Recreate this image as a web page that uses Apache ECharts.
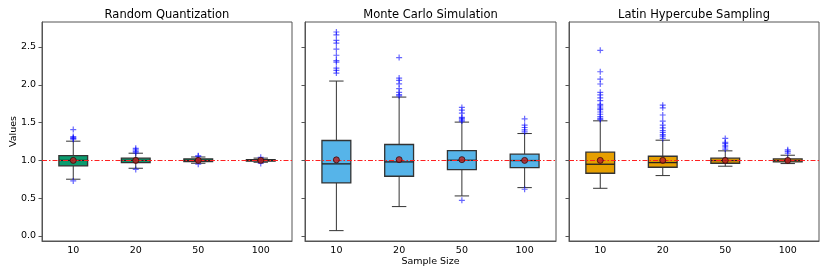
<!DOCTYPE html>
<html>
<head>
<meta charset="utf-8">
<script src="https://cdn.jsdelivr.net/npm/echarts@6/dist/echarts.min.js"></script>
<style>
html,body{margin:0;padding:0;background:#fff;}
#chart{width:830px;height:277px;}
</style>
</head>
<body>
<div id="chart"></div>
<script>
// ---------------- data ----------------
const categories = ['10', '20', '50', '100'];
const panelTitles = ['Random Quantization', 'Monte Carlo Simulation', 'Latin Hypercube Sampling'];
const yTicks = [0, 0.5, 1.0, 1.5, 2.0, 2.5];
const referenceValue = 1.0;

// [whisker low, Q1, median, Q3, whisker high]
const rqBox = [[0.751, 0.927, 1.000, 1.064, 1.254], [0.896, 0.971, 1.000, 1.029, 1.095], [0.962, 0.985, 1.000, 1.020, 1.045], [0.975, 0.990, 1.000, 1.010, 1.030]];
const mcBox = [[0.071, 0.702, 0.954, 1.263, 2.049], [0.389, 0.790, 0.980, 1.210, 1.837], [0.530, 0.879, 1.002, 1.130, 1.506], [0.640, 0.905, 0.998, 1.082, 1.355]];
const lhsBox = [[0.631, 0.830, 0.949, 1.108, 1.523], [0.799, 0.909, 0.971, 1.055, 1.267], [0.923, 0.962, 0.998, 1.029, 1.126], [0.958, 0.980, 0.998, 1.020, 1.068]];

const rqMean = [1.000, 1.000, 1.000, 1.000];
const mcMean = [1.007, 1.010, 1.010, 1.000];
const lhsMean = [1.000, 1.000, 1.000, 1.000];

// outliers per category
const rqOutliers = [[1.408, 1.316, 1.300, 1.290, 1.280, 0.728], [1.160, 1.140, 1.120, 1.100, 0.880], [1.060, 1.055, 0.950], [1.040, 0.960]];
const mcOutliers = [[2.698, 2.660, 2.587, 2.550, 2.470, 2.390, 2.320, 2.300, 2.220, 2.190, 2.155], [2.360, 2.088, 2.057, 2.013, 1.950, 1.900, 1.870, 1.854], [1.700, 1.664, 1.625, 1.570, 1.555, 1.536, 1.520, 0.472], [1.550, 1.466, 1.435, 1.404, 1.377, 0.618]];
const lhsOutliers = [[2.455, 2.172, 2.075, 2.010, 1.900, 1.866, 1.826, 1.790, 1.740, 1.720, 1.690, 1.670, 1.640, 1.610, 1.580, 1.555, 1.540], [1.730, 1.695, 1.600, 1.520, 1.465, 1.430, 1.395, 1.370, 1.340, 1.320, 1.290], [1.290, 1.240, 1.225, 1.200, 1.180, 1.150], [1.140, 1.120, 1.095]];

const boxColors = ['#0a9c6e', '#56b4e9', '#e69f00'];

// ---------------- chart ----------------
const panels = [
  {box: rqBox, mean: rqMean, out: rqOutliers},
  {box: mcBox, mean: mcMean, out: mcOutliers},
  {box: lhsBox, mean: lhsMean, out: lhsOutliers}
];
const gridLefts = [42, 305, 569];
const gridWidths = [250, 251, 250];
const FONT = 'DejaVu Sans';
const AX = '#555';
const TXT = '#000';

function renderBox(params, api) {
  const x = api.value(0);
  const lo = api.coord([x, api.value(1)]);
  const q1 = api.coord([x, api.value(2)]);
  const md = api.coord([x, api.value(3)]);
  const q3 = api.coord([x, api.value(4)]);
  const hi = api.coord([x, api.value(5)]);
  const bw = api.size([1, 0])[0] * 0.46;
  const cw = bw / 2;
  const cx = lo[0];
  const ls = {stroke: '#333', lineWidth: 1};
  return {
    type: 'group',
    children: [
      {type: 'line', shape: {x1: cx, y1: q3[1], x2: cx, y2: hi[1]}, style: ls},
      {type: 'line', shape: {x1: cx, y1: q1[1], x2: cx, y2: lo[1]}, style: ls},
      {type: 'line', shape: {x1: cx - cw / 2, y1: hi[1], x2: cx + cw / 2, y2: hi[1]}, style: ls},
      {type: 'line', shape: {x1: cx - cw / 2, y1: lo[1], x2: cx + cw / 2, y2: lo[1]}, style: ls},
      {type: 'rect', shape: {x: cx - bw / 2, y: q3[1], width: bw, height: Math.max(q1[1] - q3[1], 1)},
        style: {fill: api.visual('color'), stroke: '#333', lineWidth: 1.3}},
      {type: 'line', shape: {x1: cx - bw / 2, y1: md[1], x2: cx + bw / 2, y2: md[1]}, style: {stroke: '#222', lineWidth: 1.3}}
    ]
  };
}

const grid = [], xAxis = [], yAxis = [], series = [], title = [];
panels.forEach((p, i) => {
  grid.push({left: gridLefts[i], top: 22, width: gridWidths[i], height: 219, show: true, borderColor: AX, borderWidth: 1});
  title.push({text: panelTitles[i], left: gridLefts[i] + gridWidths[i] / 2, top: 9, textAlign: 'center', padding: 0,
    textStyle: {fontFamily: FONT, fontSize: 11.5, fontWeight: 'normal', color: TXT}});
  xAxis.push({
    type: 'category', gridIndex: i, data: categories, boundaryGap: true,
    name: i === 1 ? 'Sample Size' : '', nameLocation: 'middle', nameGap: 16, nameMoveOverlap: false,
    nameTextStyle: {fontFamily: FONT, fontSize: 9.5, color: TXT},
    axisLine: {onZero: false, lineStyle: {color: AX, width: 1}},
    axisTick: {alignWithLabel: true, length: 3.5, lineStyle: {color: AX}},
    axisLabel: {fontFamily: FONT, fontSize: 9.5, color: TXT, margin: 5},
    splitLine: {show: false}
  });
  yAxis.push({
    type: 'value', gridIndex: i, min: -0.066, max: 2.83,
    name: i === 0 ? 'Values' : '', nameLocation: 'middle', nameGap: 23, nameRotate: 90, nameMoveOverlap: false,
    nameTextStyle: {fontFamily: FONT, fontSize: 9.5, color: TXT},
    axisLine: {show: true, onZero: false, lineStyle: {color: AX, width: 1}},
    axisTick: {show: true, length: 3.5, customValues: yTicks, lineStyle: {color: AX}},
    axisLabel: {show: i === 0, customValues: yTicks, fontFamily: FONT, fontSize: 9.5, color: TXT, margin: 6,
      formatter: v => v.toFixed(1)},
    splitLine: {show: false}
  });
  series.push({
    type: 'custom', xAxisIndex: i, yAxisIndex: i, z: 2,
    itemStyle: {color: boxColors[i]},
    renderItem: renderBox,
    encode: {x: 0, y: [1, 2, 3, 4, 5]},
    data: p.box.map((b, k) => [k].concat(b))
  });
  series.push({
    type: 'line', xAxisIndex: i, yAxisIndex: i, z: 3, data: [], silent: true,
    markLine: {
      silent: true, symbol: 'none', label: {show: false}, z: 3,
      lineStyle: {color: '#ff2020', width: 1, type: [5, 2, 1.5, 2]},
      data: [{yAxis: referenceValue}]
    }
  });
  const outs = [];
  p.out.forEach((arr, k) => arr.forEach(v => outs.push([k, v])));
  series.push({
    type: 'scatter', xAxisIndex: i, yAxisIndex: i, z: 4, silent: true,
    symbol: 'path://M5 0V10M0 5H10', symbolSize: 6,
    itemStyle: {color: 'rgba(0,0,0,0)', borderColor: 'rgba(0,0,255,0.75)', borderWidth: 1.2},
    data: outs
  });
  series.push({
    type: 'scatter', xAxisIndex: i, yAxisIndex: i, z: 5, silent: true,
    symbol: 'circle', symbolSize: 6,
    itemStyle: {color: '#b82020', borderColor: '#3a0a0a', borderWidth: 1},
    data: p.mean.map((m, k) => [k, m])
  });
});

const chart = echarts.init(document.getElementById('chart'), null, {renderer: 'canvas'});
chart.setOption({animation: false, backgroundColor: '#fff', title, grid, xAxis, yAxis, series});
</script>
</body>
</html>
